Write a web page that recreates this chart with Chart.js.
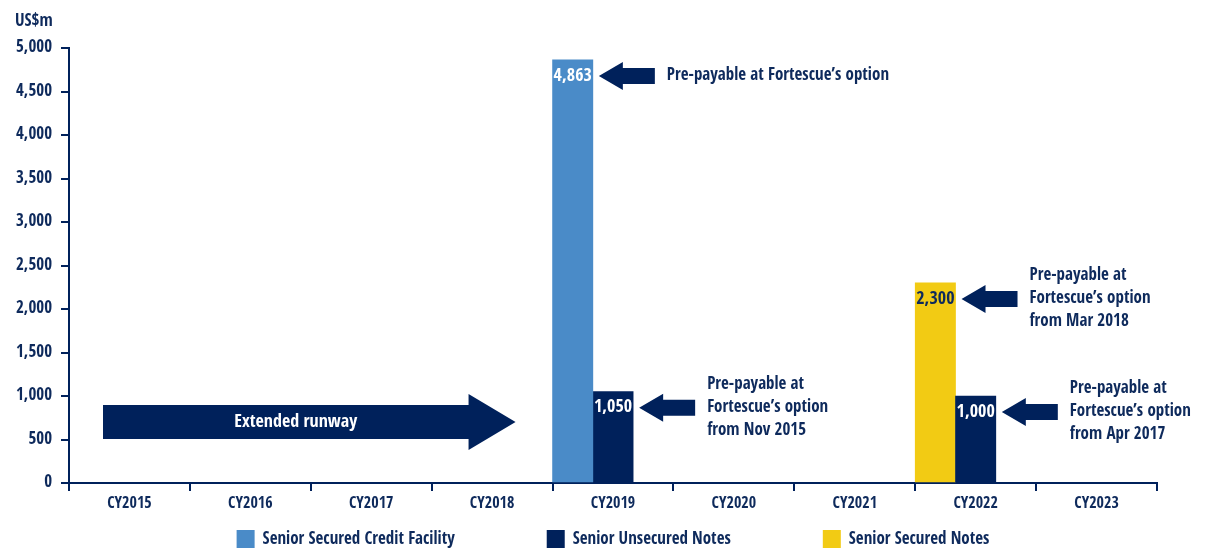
<!DOCTYPE html>
<html>
<head>
<meta charset="utf-8">
<script src="https://cdn.jsdelivr.net/npm/chart.js@4.4.0/dist/chart.umd.min.js"></script>
<style>
  html, body { margin: 0; padding: 0; background: #fff; }
</style>
</head>
<body>
<canvas id="debtChart" width="1206" height="549"></canvas>
<script>
// ---- data ----
const years = ["CY2015", "CY2016", "CY2017", "CY2018", "CY2019", "CY2020", "CY2021", "CY2022", "CY2023"];
const creditFacility = [null, null, null, null, 4863, null, null, null, null];
const unsecuredNotes = [null, null, null, null, 1050, null, null, 1000, null];
const securedNotes = [null, null, null, null, null, null, null, 2300, null];
const seriesNames = ["Senior Secured Credit Facility", "Senior Unsecured Notes", "Senior Secured Notes"];
const yMax = 5000;
const yStep = 500;

// notes next to the bars: [dataset, index, lines]
const notes = [
  [0, 4, ["Pre-payable at Fortescue\u2019s option"]],
  [1, 4, ["Pre-payable at", "Fortescue\u2019s option", "from Nov 2015"]],
  [2, 7, ["Pre-payable at", "Fortescue\u2019s option", "from Mar 2018"]],
  [1, 7, ["Pre-payable at", "Fortescue\u2019s option", "from Apr 2017"]],
];
const runwayText = "Extended runway";
const runwayValue = 700;

const NAVY = "#00215b";
const TEXT = "#0e2a5c";
const BLUE = "#4a8bc8";
const YELLOW = "#f2cb14";
const FONT = "'Open Sans Condensed', 'Open Sans', sans-serif";

function leftArrow(ctx, tipX, y, len, headLen, headHalf, bodyHalf) {
  ctx.beginPath();
  ctx.moveTo(tipX, y);
  ctx.lineTo(tipX + headLen, y - headHalf);
  ctx.lineTo(tipX + headLen, y - bodyHalf);
  ctx.lineTo(tipX + len, y - bodyHalf);
  ctx.lineTo(tipX + len, y + bodyHalf);
  ctx.lineTo(tipX + headLen, y + bodyHalf);
  ctx.lineTo(tipX + headLen, y + headHalf);
  ctx.closePath();
  ctx.fill();
}

function rightArrow(ctx, startX, tipX, y, headLen, headHalf, bodyHalf) {
  ctx.beginPath();
  ctx.moveTo(tipX, y);
  ctx.lineTo(tipX - headLen, y - headHalf);
  ctx.lineTo(tipX - headLen, y - bodyHalf);
  ctx.lineTo(startX, y - bodyHalf);
  ctx.lineTo(startX, y + bodyHalf);
  ctx.lineTo(tipX - headLen, y + bodyHalf);
  ctx.lineTo(tipX - headLen, y + headHalf);
  ctx.closePath();
  ctx.fill();
}

const extras = {
  id: "extras",
  afterDraw(chart) {
    const ctx = chart.ctx;
    const area = chart.chartArea;
    const yScale = chart.scales.y;
    ctx.save();

    // unit label
    ctx.fillStyle = TEXT;
    ctx.font = "bold 17px " + FONT;
    ctx.textAlign = "left";
    ctx.textBaseline = "middle";
    ctx.fillText("US$m", 15, 22);

    // values inside bars
    ctx.font = "bold 18px " + FONT;
    ctx.textAlign = "center";
    chart.data.datasets.forEach((ds, di) => {
      const meta = chart.getDatasetMeta(di);
      ds.data.forEach((v, i) => {
        if (v == null) return;
        const bar = meta.data[i];
        ctx.fillStyle = di === 2 ? TEXT : "#fff";
        ctx.fillText(v.toLocaleString("en-US"), bar.x, bar.y + 16);
      });
    });

    // arrows + notes
    ctx.font = "bold 17px " + FONT;
    notes.forEach(([di, i, lines]) => {
      const bar = chart.getDatasetMeta(di).data[i];
      const tip = bar.x + bar.width / 2 + 6;
      const y = bar.y + 16;
      ctx.fillStyle = NAVY;
      leftArrow(ctx, tip, y, 56, 24, 14, 8);
      ctx.fillStyle = TEXT;
      ctx.textAlign = "left";
      const off = (lines.length - 1) / 2;
      lines.forEach((t, k) => ctx.fillText(t, tip + 68, y + (k - off) * 23));
    });

    // extended runway arrow
    const firstBar = chart.getDatasetMeta(0).data[4];
    const startX = area.left + 34;
    const tipX = firstBar.x - firstBar.width / 2 - 37;
    const ry = yScale.getPixelForValue(runwayValue);
    ctx.fillStyle = NAVY;
    rightArrow(ctx, startX, tipX, ry, 47, 28, 17);
    ctx.fillStyle = "#fff";
    ctx.font = "bold 18px " + FONT;
    ctx.textAlign = "center";
    ctx.fillText(runwayText, (startX + tipX - 47) / 2 + 10, ry);

    // legend
    ctx.font = "bold 17px " + FONT;
    ctx.textAlign = "left";
    const box = 18, gapText = 8, gapItem = 92;
    const widths = seriesNames.map(n => box + gapText + ctx.measureText(n).width);
    const total = widths.reduce((a, b) => a + b, 0) + gapItem * (widths.length - 1);
    let x = (area.left + area.right) / 2 - total / 2;
    const ly = 539;
    chart.data.datasets.forEach((ds, di) => {
      ctx.fillStyle = ds.backgroundColor;
      ctx.fillRect(x, ly - box / 2, box, box);
      ctx.fillStyle = TEXT;
      ctx.fillText(seriesNames[di], x + box + gapText, ly + 1);
      x += widths[di] + gapItem;
    });
    ctx.restore();
  }
};

new Chart(document.getElementById("debtChart"), {
  type: "bar",
  data: {
    labels: years,
    datasets: [
      { label: seriesNames[0], data: creditFacility, backgroundColor: BLUE, stack: "a" },
      { label: seriesNames[1], data: unsecuredNotes, backgroundColor: NAVY, stack: "b" },
      { label: seriesNames[2], data: securedNotes, backgroundColor: YELLOW, stack: "a" },
    ],
  },
  options: {
    responsive: false,
    animation: false,
    barPercentage: 1,
    categoryPercentage: 1,
    layout: { padding: { left: 0, right: 49, top: 48, bottom: 36 } },
    plugins: {
      legend: { display: false },
      tooltip: { enabled: false },
    },
    scales: {
      x: {
        stacked: false,
        afterFit: (scale) => { scale.height = 30; },
        border: { color: NAVY, width: 2 },
        grid: { offset: true, drawOnChartArea: false, color: NAVY, lineWidth: 2, tickLength: 8 },
        ticks: { color: TEXT, font: { family: FONT, size: 16, weight: "bold" }, padding: 3 },
      },
      y: {
        stacked: true,
        min: 0,
        max: yMax,
        afterFit: (scale) => { scale.width = 69; },
        border: { color: NAVY, width: 2 },
        grid: { drawOnChartArea: false, color: NAVY, lineWidth: 2, tickLength: 8 },
        ticks: { stepSize: yStep, color: TEXT, font: { family: FONT, size: 17, weight: "bold" }, padding: 9 },
      },
    },
  },
  plugins: [extras],
});
</script>
</body>
</html>
